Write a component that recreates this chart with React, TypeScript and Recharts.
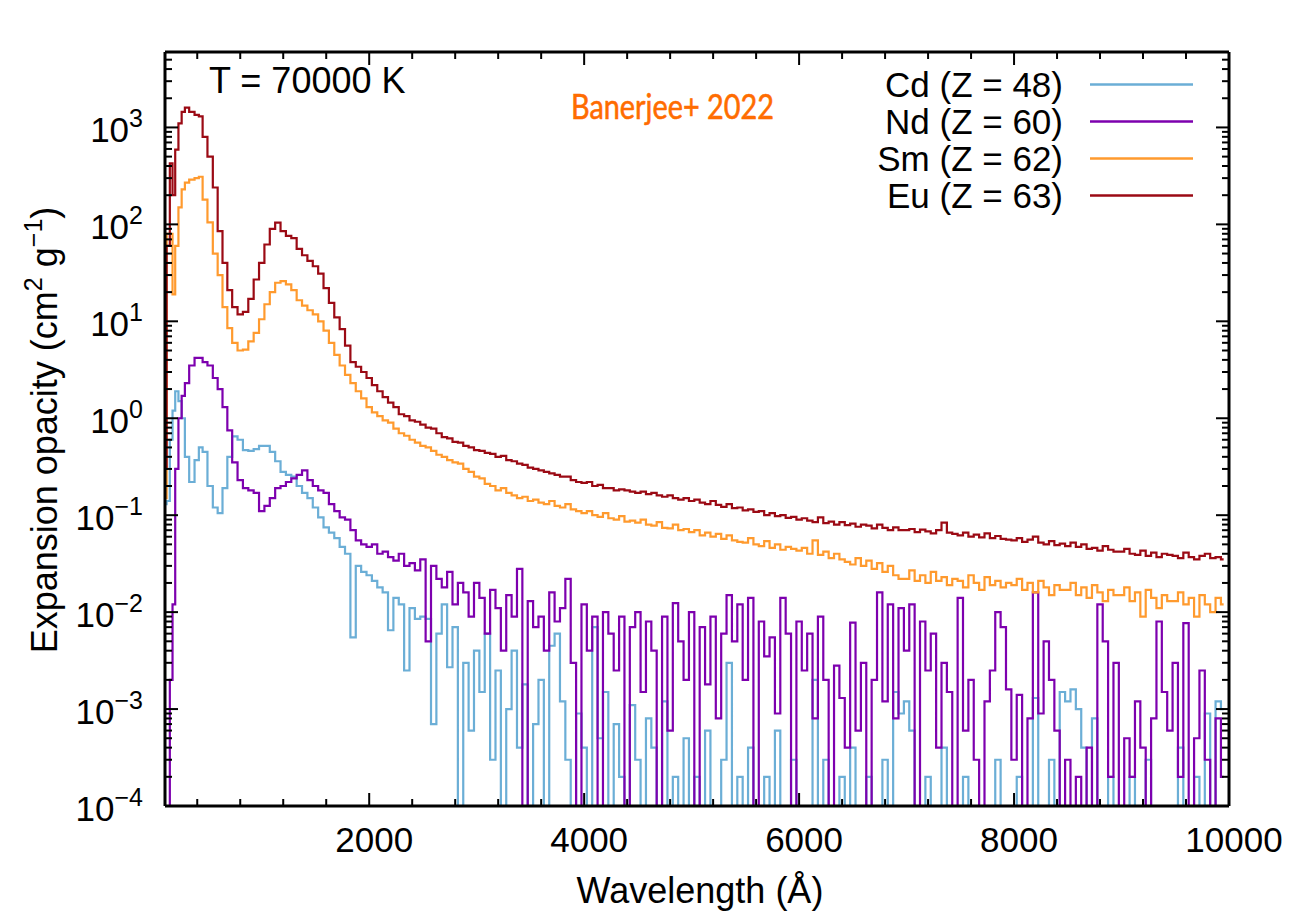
import React from 'react';
import { LineChart, Line, XAxis, YAxis, Legend } from 'recharts';

const FONT = '"Liberation Sans", Arial, Helvetica, sans-serif';

// wavelength bins (Å): finer near the UV peaks, then 50 Å bins
const EARLY_WL = [
  100, 130, 160, 180, 210, 240, 270, 300, 350, 400, 430, 470, 520, 570, 610, 660, 700, 750, 800, 850,
  900, 950, 1000, 1050, 1100, 1150, 1200, 1250, 1300, 1350, 1400, 1450, 1500, 1550, 1600, 1650, 1700,
  1750, 1800, 1850, 1900, 1950,
];
const TAIL_WL = Array.from({ length: 160 }, (_, i) => 2000 + i * 50);

// expansion opacity, cm^2 g^-1 (5e-5 = below the plotted range)
const cdEarly = [
  0.13, 0.14, 0.6, 1.2, 1.9, 1.5, 1.0, 0.4, 0.22, 0.37, 0.5, 0.45, 0.2, 0.12, 0.105, 0.19, 0.4, 0.65, 0.6, 0.47,
  0.46, 0.48, 0.52, 0.52, 0.45, 0.36, 0.28, 0.26, 0.25, 0.2, 0.17, 0.15, 0.12, 0.095, 0.075, 0.066, 0.058,
  0.047, 0.04, 0.0055, 0.03, 0.026,
];
const cdTail = [
  0.024, 0.021, 0.018, 0.016, 0.0065, 0.014, 0.012, 0.0025, 0.011, 0.0085,
  0.009, 0.0085, 0.0007, 0.006, 0.012, 0.0027, 0.007, 5e-5, 0.003, 0.0006,
  0.004, 0.0015, 0.006, 0.0003, 0.0025, 5e-5, 0.001, 0.004, 0.0004, 0.0018,
  5e-5, 0.0007, 0.002, 5e-5, 0.0045, 0.006, 0.0012, 0.0003, 5e-5, 0.0009,
  0.0004, 5e-5, 0.007, 0.0005, 0.0015, 5e-5, 0.0007, 0.0002, 5e-5, 0.0011,
  0.0003, 5e-5, 0.0008, 0.0004, 5e-5, 0.0012, 5e-5, 0.0002, 5e-5, 0.0005,
  5e-5, 0.0002, 5e-5, 0.0006, 5e-5, 5e-5, 0.0003, 0.003, 5e-5, 0.0002,
  5e-5, 0.0004, 5e-5, 5e-5, 0.0002, 5e-5, 0.0006, 5e-5, 5e-5, 0.0003,
  5e-5, 0.0001, 5e-5, 0.002, 5e-5, 0.0003, 5e-5, 5e-5, 0.0002, 5e-5,
  0.0004, 5e-5, 5e-5, 0.0002, 5e-5, 5e-5, 0.0003, 5e-5, 0.0015, 0.0009,
  0.0012, 0.0006, 5e-5, 5e-5, 0.0002, 5e-5, 5e-5, 0.0004, 5e-5, 5e-5,
  5e-5, 0.0002, 5e-5, 5e-5, 0.0001, 5e-5, 5e-5, 0.0003, 5e-5, 5e-5,
  5e-5, 0.0002, 5e-5, 5e-5, 0.0013, 5e-5, 5e-5, 0.0003, 5e-5, 0.0015,
  0.0012, 0.0016, 0.001, 0.0004, 5e-5, 0.0008, 5e-5, 5e-5, 0.0002, 5e-5,
  5e-5, 5e-5, 0.0002, 5e-5, 5e-5, 0.0003, 5e-5, 5e-5, 0.0001, 5e-5,
  5e-5, 0.0004, 5e-5, 5e-5, 0.0002, 5e-5, 0.0009, 5e-5, 0.0012, 0.001,
];

const ndEarly = [
  5e-5, 5e-5, 0.002, 0.012, 0.3, 1.0, 1.7, 2.3, 3.5, 4.2, 4.2, 3.8, 3.5, 2.6, 2.0, 1.3, 0.75, 0.35, 0.23, 0.19,
  0.18, 0.17, 0.11, 0.125, 0.15, 0.19, 0.2, 0.22, 0.24, 0.26, 0.29, 0.23, 0.2, 0.18, 0.17, 0.13, 0.11,
  0.095, 0.09, 0.07, 0.055, 0.05,
];
const ndTail = [
  0.047, 0.05, 0.04, 0.042, 0.037, 0.034, 0.04, 0.03, 0.032, 0.027,
  0.035, 0.005, 0.03, 0.022, 0.018, 0.026, 0.012, 0.02, 0.016, 0.009,
  0.02, 0.014, 0.006, 0.017, 0.011, 0.004, 0.015, 0.009, 0.028, 5e-5,
  0.013, 0.007, 0.009, 0.004, 0.016, 0.008, 0.011, 0.022, 0.003, 5e-5,
  0.012, 0.004, 0.009, 5e-5, 0.01, 0.006, 0.0025, 0.009, 5e-5, 0.007,
  0.01, 0.0015, 0.008, 0.004, 5e-5, 0.009, 0.0006, 0.0124, 0.005, 0.002,
  0.01, 5e-5, 0.007, 0.0018, 0.009, 0.0008, 0.006, 0.015, 0.005, 0.012,
  0.002, 0.014, 5e-5, 0.008, 0.0035, 0.0055, 0.0009, 0.014, 0.006, 5e-5,
  0.008, 0.0025, 0.006, 0.0008, 0.009, 0.002, 5e-5, 0.0028, 0.0013, 0.0004,
  0.0078, 0.0006, 0.003, 5e-5, 0.002, 0.016, 0.0012, 0.012, 0.0008, 0.011,
  0.004, 0.012, 5e-5, 0.008, 0.0025, 0.006, 0.0004, 0.003, 0.0015, 5e-5,
  0.014, 0.0006, 0.002, 0.0003, 5e-5, 0.0012, 0.0025, 0.01, 0.007, 0.0016,
  0.0003, 0.0014, 5e-5, 0.0008, 0.016, 0.0009, 0.005, 0.002, 0.0006, 5e-5,
  0.0003, 5e-5, 0.0002, 5e-5, 0.0004, 5e-5, 0.012, 0.005, 0.0002, 0.003,
  5e-5, 0.0005, 0.0002, 0.0012, 0.0004, 5e-5, 0.0008, 0.008, 0.0015, 0.0006,
  0.003, 0.0002, 0.0077, 5e-5, 0.0005, 0.0025, 0.0003, 5e-5, 0.0008, 0.0002,
];

const smEarly = [
  0.15, 80, 80, 19, 60, 150, 230, 270, 290, 300, 310, 180, 105, 50, 30, 14, 8.5, 6, 5.0, 5.1,
  6.2, 7.6, 10.5, 15, 20, 25, 26, 24, 21, 16.5, 14.5, 13, 11.8, 10, 8, 6, 4.5,
  3.5, 2.8, 2.3, 1.9, 1.6,
];
const smTail = [
  1.3, 1.15, 1.05, 0.95, 0.9, 0.78, 0.7, 0.66, 0.6, 0.56,
  0.52, 0.5, 0.46, 0.42, 0.4, 0.37, 0.35, 0.34, 0.3, 0.28,
  0.25, 0.24, 0.21, 0.2, 0.18, 0.19, 0.17, 0.16, 0.15, 0.155,
  0.14, 0.145, 0.135, 0.13, 0.14, 0.125, 0.12, 0.13, 0.115, 0.11,
  0.105, 0.11, 0.1, 0.096, 0.105, 0.093, 0.09, 0.098, 0.086, 0.088,
  0.084, 0.09, 0.08, 0.078, 0.085, 0.074, 0.073, 0.08, 0.07, 0.072,
  0.067, 0.07, 0.062, 0.066, 0.06, 0.064, 0.057, 0.062, 0.055, 0.053,
  0.052, 0.058, 0.05, 0.048, 0.054, 0.046, 0.05, 0.044, 0.047, 0.045,
  0.043, 0.046, 0.04, 0.055, 0.039, 0.042, 0.036, 0.04, 0.035, 0.033,
  0.031, 0.036, 0.03, 0.034, 0.028, 0.032, 0.026, 0.03, 0.024, 0.022,
  0.022, 0.027, 0.021, 0.024, 0.02, 0.026, 0.021, 0.023, 0.019, 0.022,
  0.021, 0.018, 0.024, 0.02, 0.017, 0.023, 0.019, 0.021, 0.018, 0.02,
  0.019, 0.022, 0.017, 0.02, 0.016, 0.021, 0.018, 0.015, 0.019, 0.017,
  0.017, 0.02, 0.015, 0.018, 0.014, 0.019, 0.016, 0.013, 0.017, 0.015,
  0.015, 0.018, 0.013, 0.016, 0.009, 0.017, 0.014, 0.011, 0.015, 0.013,
  0.013, 0.016, 0.012, 0.014, 0.009, 0.015, 0.012, 0.01, 0.014, 0.012,
];

const euEarly = [
  0.3, 60, 425, 200, 590, 1100, 1450, 1600, 1450, 1350, 1300, 800, 500, 240, 85, 40, 21, 14, 11.8, 12.5,
  17, 27, 40, 62, 90, 104, 85, 76, 72, 56, 48, 42, 37, 31, 22, 15.5, 11,
  8.3, 5.6, 3.8, 3.4, 3.0,
];
const euTail = [
  2.6, 2.2, 1.9, 1.65, 1.45, 1.3, 1.1, 1.05, 0.95, 0.92,
  0.86, 0.8, 0.78, 0.7, 0.64, 0.62, 0.57, 0.56, 0.52, 0.5,
  0.47, 0.46, 0.44, 0.43, 0.4, 0.41, 0.37, 0.36, 0.34, 0.33,
  0.31, 0.3, 0.29, 0.28, 0.27, 0.26, 0.25, 0.25, 0.23, 0.22,
  0.215, 0.22, 0.2, 0.205, 0.19, 0.19, 0.18, 0.185, 0.18, 0.175,
  0.17, 0.175, 0.165, 0.17, 0.16, 0.155, 0.16, 0.15, 0.145, 0.15,
  0.14, 0.145, 0.135, 0.13, 0.14, 0.128, 0.122, 0.13, 0.118, 0.12,
  0.112, 0.115, 0.108, 0.11, 0.1, 0.105, 0.098, 0.1, 0.094, 0.096,
  0.09, 0.093, 0.088, 0.085, 0.095, 0.083, 0.086, 0.08, 0.085, 0.079,
  0.082, 0.076, 0.08, 0.078, 0.073, 0.08, 0.074, 0.07, 0.075, 0.07,
  0.07, 0.072, 0.067, 0.071, 0.068, 0.065, 0.07, 0.084, 0.066, 0.064,
  0.062, 0.066, 0.06, 0.063, 0.059, 0.065, 0.058, 0.061, 0.057, 0.056,
  0.055, 0.058, 0.053, 0.056, 0.06, 0.052, 0.05, 0.054, 0.049, 0.051,
  0.048, 0.052, 0.047, 0.05, 0.045, 0.046, 0.043, 0.048, 0.044, 0.042,
  0.042, 0.045, 0.04, 0.039, 0.043, 0.038, 0.041, 0.037, 0.04, 0.039,
  0.038, 0.036, 0.041, 0.037, 0.035, 0.038, 0.04, 0.036, 0.037, 0.035,
];

const SERIES = [
  { key: 'cd', name: 'Cd (Z = 48)', color: '#6baed6' },
  { key: 'nd', name: 'Nd (Z = 60)', color: '#7d00ae' },
  { key: 'sm', name: 'Sm (Z = 62)', color: '#ff9a2e' },
  { key: 'eu', name: 'Eu (Z = 63)', color: '#9b0a14' },
];

const Y_MAJOR = [1e-4, 1e-3, 1e-2, 1e-1, 1, 10, 100, 1000];
const Y_TICKS = Y_MAJOR.flatMap((d) => [1, 2, 3, 4, 5, 6, 7, 8, 9].map((m) => (m === 1 ? d : d * m))).filter((v) => v <= 6000);
const X_MAJOR = [2000, 4000, 6000, 8000, 10000];
const X_TICKS = Array.from({ length: 25 }, (_, i) => (i + 1) * 400);

const wavelengths = [...EARLY_WL, ...TAIL_WL];
const cd = [...cdEarly, ...cdTail];
const nd = [...ndEarly, ...ndTail];
const sm = [...smEarly, ...smTail];
const eu = [...euEarly, ...euTail];
const data = wavelengths.map((wl, i) => ({ wl, cd: cd[i], nd: nd[i], sm: sm[i], eu: eu[i] }));

const MAJOR_LEN = 13;
const MINOR_LEN = 7;

const LeftTick = (props: any) => {
  const { x, y, payload } = props;
  const v = payload.value;
  const major = Y_MAJOR.includes(v);
  const ax = x + 22;
  const e = Math.round(Math.log10(v));
  return (
    <g>
      <line x1={ax} x2={ax + (major ? MAJOR_LEN : MINOR_LEN)} y1={y} y2={y} stroke="#000" strokeWidth={2} />
      {major && (
        <text x={x} y={y + 15} textAnchor="end" fontSize={35} fontFamily={FONT} fill="#000">
          10
          <tspan dy={-15} fontSize={25}>
            {e < 0 ? `\u2212${-e}` : `${e}`}
          </tspan>
        </text>
      )}
    </g>
  );
};

const RightTick = (props: any) => {
  const { x, y, payload } = props;
  const major = Y_MAJOR.includes(payload.value);
  return <line x1={x} x2={x - (major ? MAJOR_LEN : MINOR_LEN)} y1={y} y2={y} stroke="#000" strokeWidth={2} />;
};

const BottomTick = (props: any) => {
  const { x, y, payload } = props;
  const major = X_MAJOR.includes(payload.value);
  const ay = y - 46;
  return (
    <g>
      <line x1={x} x2={x} y1={ay} y2={ay - (major ? MAJOR_LEN : MINOR_LEN)} stroke="#000" strokeWidth={2} />
      {major && (
        <text x={x + 5} y={y} textAnchor="middle" fontSize={35} fontFamily={FONT} fill="#000">
          {payload.value}
        </text>
      )}
    </g>
  );
};

const TopTick = (props: any) => {
  const { x, y, payload } = props;
  const major = X_MAJOR.includes(payload.value);
  return <line x1={x} x2={x} y1={y} y2={y + (major ? MAJOR_LEN : MINOR_LEN)} stroke="#000" strokeWidth={2} />;
};

const seriesOrder = (name: string) => SERIES.findIndex((s) => s.name === name);

const LegendBox = ({ payload }: any) => {
  const items = [...(payload || [])].sort((a: any, b: any) => seriesOrder(a.value) - seriesOrder(b.value));
  return (
    <svg width={340} height={160}>
      {items.map((p: any, i: number) => (
        <g key={p.value}>
          <text x={203} y={i * 37 + 37} textAnchor="end" fontSize={35} fontFamily={FONT} fill="#000">
            {p.value}
          </text>
          <line x1={230} x2={333} y1={i * 37 + 24.5} y2={i * 37 + 24.5} stroke={p.color} strokeWidth={2.5} />
        </g>
      ))}
    </svg>
  );
};

const axisLine = { stroke: '#000', strokeWidth: 3 };

export default function App() {
  return (
    <div style={{ position: 'absolute', left: 0, top: 0, width: 1290, height: 915, background: '#fff' }}>
      <LineChart width={1290} height={915} data={data} margin={{ top: 42, right: 51, bottom: 49, left: 45 }}>
        <XAxis
          xAxisId="x"
          dataKey="wl"
          type="number"
          domain={[100, 10000]}
          allowDataOverflow
          ticks={X_TICKS}
          interval={0}
          height={60}
          tickSize={0}
          tickMargin={46}
          axisLine={axisLine}
          tickLine={false}
          tick={<BottomTick />}
        />
        <XAxis
          xAxisId="top"
          orientation="top"
          dataKey="wl"
          type="number"
          domain={[100, 10000]}
          allowDataOverflow
          ticks={X_TICKS}
          interval={0}
          height={10}
          tickSize={0}
          tickMargin={0}
          axisLine={axisLine}
          tickLine={false}
          tick={<TopTick />}
        />
        <YAxis
          yAxisId="y"
          type="number"
          scale="log"
          domain={[1e-4, 6000]}
          allowDataOverflow
          ticks={Y_TICKS}
          interval={0}
          width={120}
          tickSize={0}
          tickMargin={22}
          axisLine={axisLine}
          tickLine={false}
          tick={<LeftTick />}
        />
        <YAxis
          yAxisId="right"
          orientation="right"
          type="number"
          scale="log"
          domain={[1e-4, 6000]}
          allowDataOverflow
          ticks={Y_TICKS}
          interval={0}
          width={10}
          tickSize={0}
          tickMargin={0}
          axisLine={axisLine}
          tickLine={false}
          tick={<RightTick />}
        />
        <Legend
          layout="vertical"
          align="center"
          verticalAlign="middle"
          itemSorter={(item: any) => seriesOrder(item.value)}
          wrapperStyle={{ position: 'absolute', left: 860, top: 60, width: 340, height: 160 }}
          content={<LegendBox />}
        />
        {SERIES.map((s) => (
          <Line
            key={s.key}
            xAxisId="x"
            yAxisId="y"
            type="step"
            dataKey={s.key}
            name={s.name}
            stroke={s.color}
            strokeWidth={2.2}
            dot={false}
            activeDot={false}
            isAnimationActive={false}
          />
        ))}
      </LineChart>
      <svg
        width={1290}
        height={915}
        style={{ position: 'absolute', left: 0, top: 0, pointerEvents: 'none' }}
      >
        <text x={209} y={93} fontSize={36} fontFamily={FONT} fill="#000">
          T = 70000 K
        </text>
        <text
          x={571}
          y={119}
          fontSize={35}
          textLength={203}
          lengthAdjust="spacingAndGlyphs"
          fontFamily="Lato, 'Open Sans', sans-serif"
          fill="#ff6c00"
          stroke="#ff6c00"
          strokeWidth={0.6}
        >
          Banerjee+ 2022
        </text>
        <text x={700} y={903} textAnchor="middle" fontSize={36} fontFamily={FONT} fill="#000">
          Wavelength (Å)
        </text>
        <text
          transform="translate(57,430) rotate(-90)"
          textAnchor="middle"
          fontSize={36}
          fontFamily={FONT}
          fill="#000"
        >
          Expansion opacity (cm
          <tspan dy={-15} fontSize={25}>2</tspan>
          <tspan dy={15}> g</tspan>
          <tspan dy={-15} fontSize={25}>{'\u22121'}</tspan>
          <tspan dy={15}>)</tspan>
        </text>
      </svg>
    </div>
  );
}
